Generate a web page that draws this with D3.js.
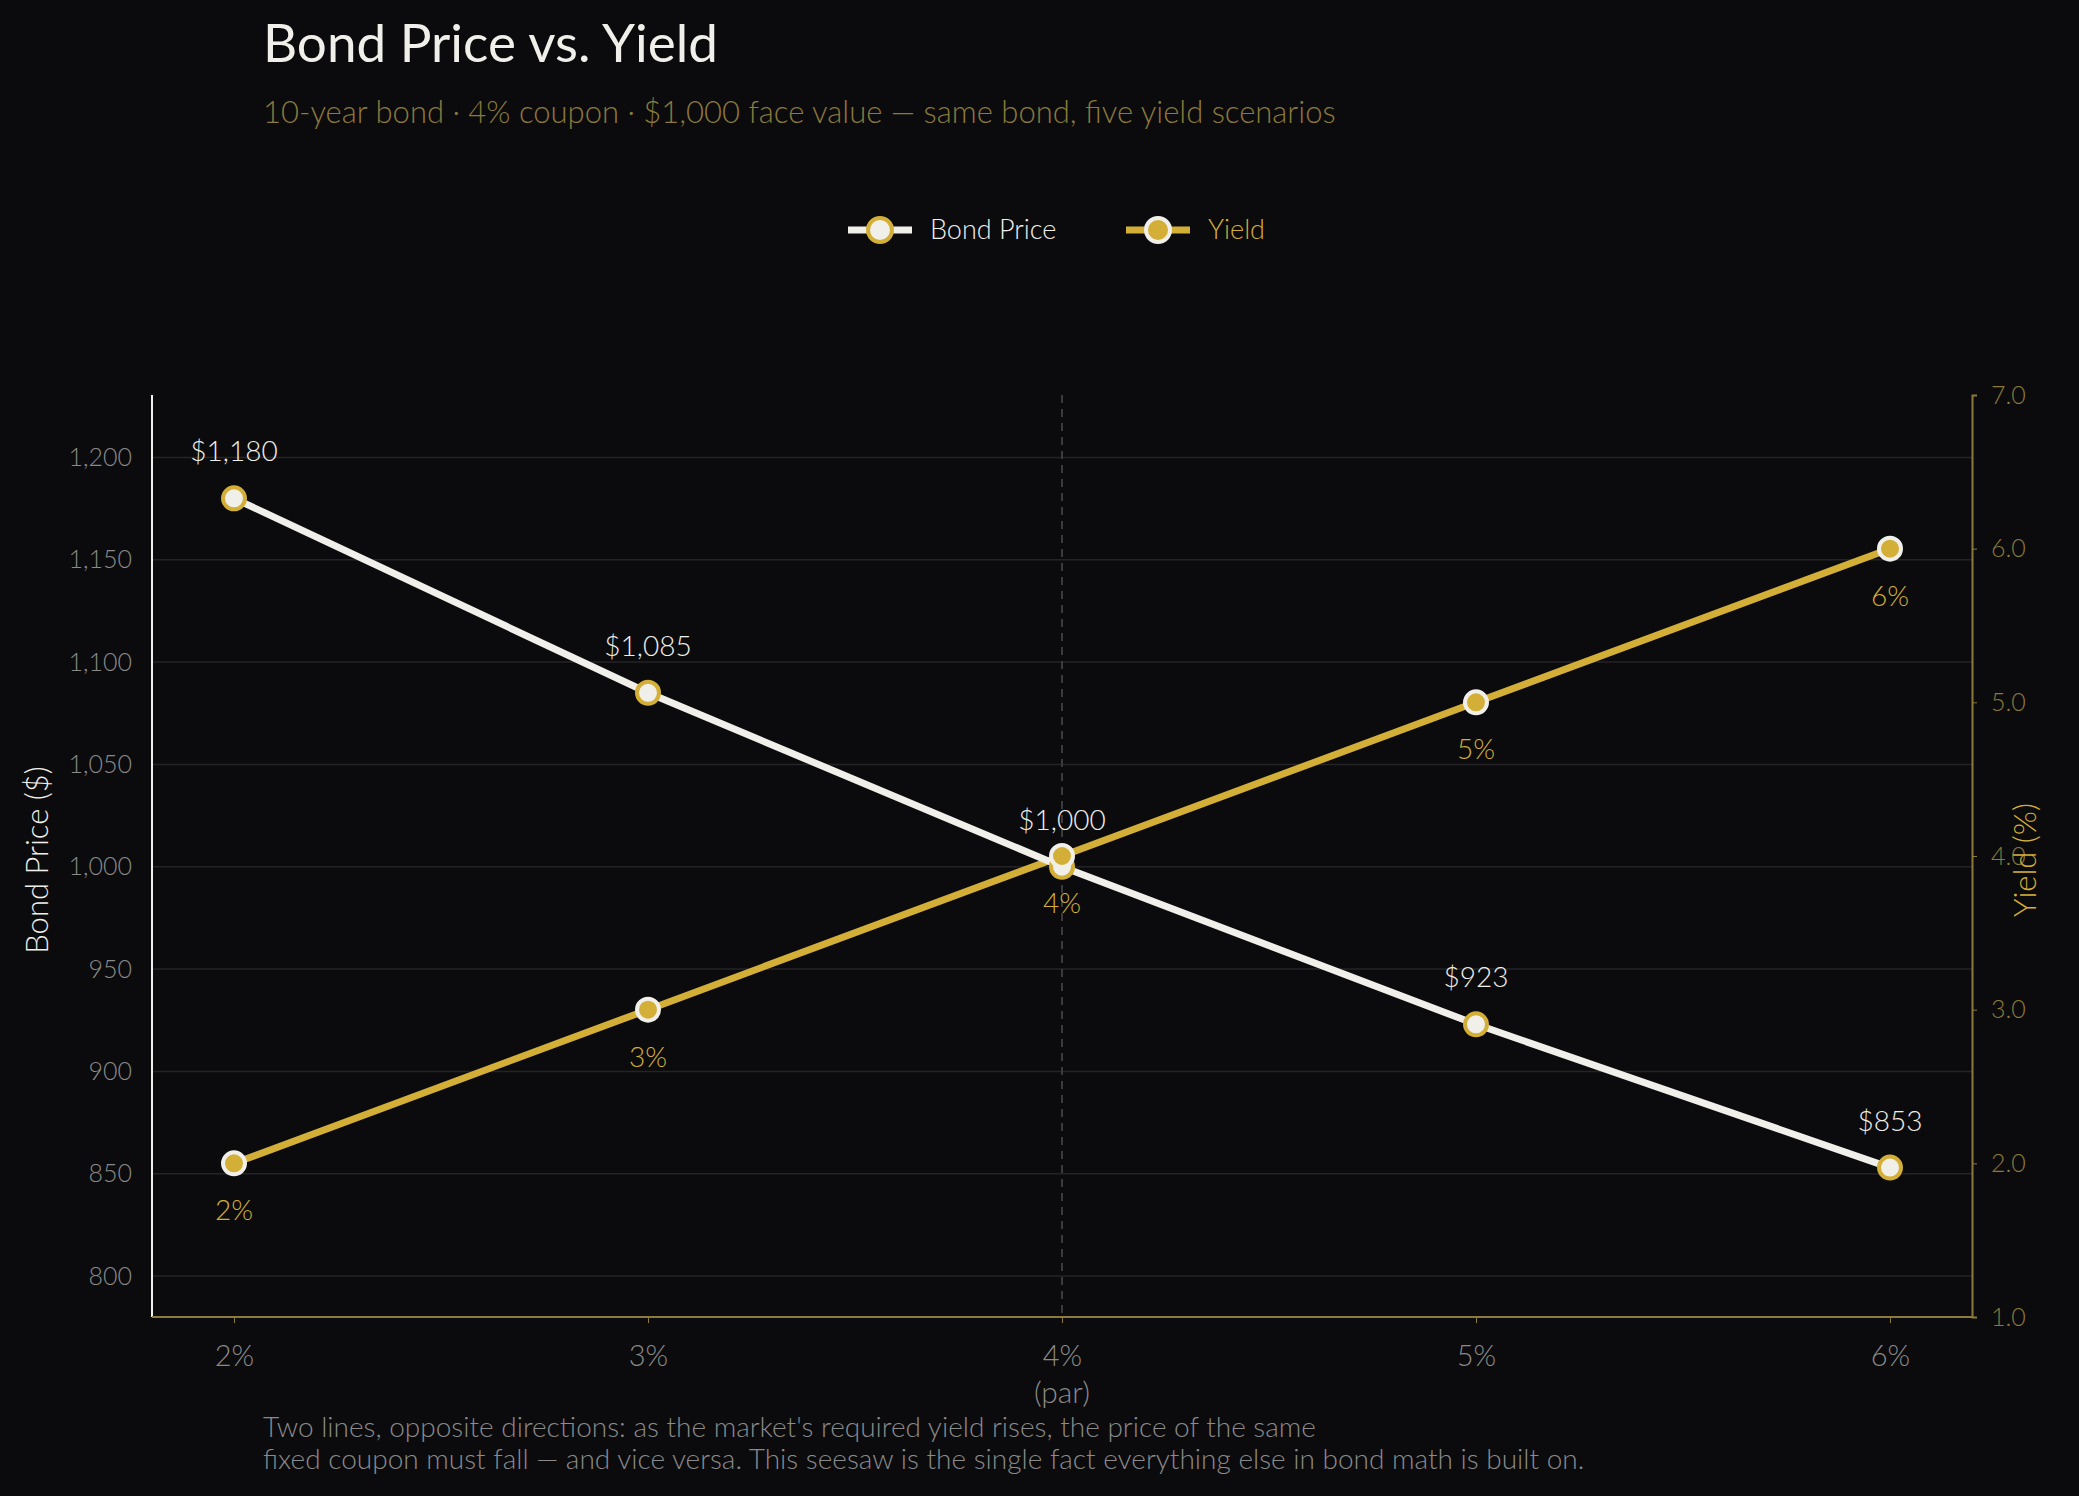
<!DOCTYPE html>
<html>
<head>
<meta charset="utf-8">
<script src="https://d3js.org/d3.v7.min.js"></script>
<style>
  body { margin: 0; background: #0b0b0d; }
  text { font-family: Lato, "Open Sans", sans-serif; font-weight: 300; }
</style>
</head>
<body>
<script>
  // data
  var scenarios = ["2%", "3%", "4%", "5%", "6%"];
  var prices = [1180, 1085, 1000, 923, 853];
  var yields = [2, 3, 4, 5, 6];
  var priceTicks = [800, 850, 900, 950, 1000, 1050, 1100, 1150, 1200];
  var yieldTicks = [1, 2, 3, 4, 5, 6, 7];

  var W = 2079, H = 1496;
  var gold = "#d4af37", white = "#f0efe9", dimGold = "#8c7a3c", grey = "#8a8a8a";
  var pLeft = 152, pRight = 1972, pTop = 395, pBottom = 1317;

  var svg = d3.select("body").append("svg").attr("width", W).attr("height", H);
  svg.append("rect").attr("width", W).attr("height", H).attr("fill", "#0b0b0d");

  var x = d3.scalePoint().domain(scenarios).range([234, 1890]);
  var yP = d3.scaleLinear().domain([780, 1230.5]).range([pBottom, pTop]);
  var yY = d3.scaleLinear().domain([1, 7]).range([pBottom, pTop]);

  // title block
  svg.append("text").attr("x", 263).attr("y", 62).attr("fill", white)
    .style("font-size", "53px").style("font-weight", 400).text("Bond Price vs. Yield");
  svg.append("text").attr("x", 263).attr("y", 123).attr("fill", dimGold)
    .style("font-size", "31px")
    .text("10-year bond · 4% coupon · $1,000 face value — same bond, five yield scenarios");

  // legend
  var leg = svg.append("g").attr("transform", "translate(848,230)");
  leg.append("line").attr("x1", 0).attr("x2", 64).attr("stroke", white).attr("stroke-width", 7);
  leg.append("circle").attr("cx", 32).attr("r", 12).attr("fill", white).attr("stroke", gold).attr("stroke-width", 4);
  leg.append("text").attr("x", 82).attr("y", 9).attr("fill", white).style("font-size", "27px").text("Bond Price");
  leg.append("line").attr("x1", 278).attr("x2", 342).attr("stroke", gold).attr("stroke-width", 7);
  leg.append("circle").attr("cx", 310).attr("r", 12).attr("fill", gold).attr("stroke", white).attr("stroke-width", 4);
  leg.append("text").attr("x", 360).attr("y", 9).attr("fill", gold).style("font-size", "27px").text("Yield");

  // gridlines
  svg.append("g").selectAll("line").data(priceTicks).join("line")
    .attr("x1", pLeft).attr("x2", pRight)
    .attr("y1", function(d) { return yP(d); }).attr("y2", function(d) { return yP(d); })
    .attr("stroke", "#242426").attr("stroke-width", 1.5);

  // par line
  svg.append("line").attr("x1", x("4%")).attr("x2", x("4%")).attr("y1", pTop).attr("y2", pBottom)
    .attr("stroke", "#3a3a3d").attr("stroke-width", 2).attr("stroke-dasharray", "8,6");

  // axes
  var axL = svg.append("g").attr("transform", "translate(" + pLeft + ",0)")
    .call(d3.axisLeft(yP).tickValues(priceTicks).tickSize(0).tickPadding(20));
  axL.select(".domain").attr("d", "M0," + pTop + "V" + pBottom).attr("stroke", white).attr("stroke-width", 2);
  axL.selectAll("text").attr("fill", grey).style("font-size", "25px");

  var axR = svg.append("g").attr("transform", "translate(" + pRight + ",0)")
    .call(d3.axisRight(yY).tickValues(yieldTicks).tickSize(5).tickPadding(14));
  axR.select(".domain").attr("stroke", dimGold).attr("stroke-width", 2);
  axR.selectAll(".tick line").attr("stroke", dimGold);
  axR.selectAll("text").attr("fill", dimGold).style("font-size", "25px");

  var axB = svg.append("g").attr("transform", "translate(0," + pBottom + ")")
    .call(d3.axisBottom(x).tickSize(6).tickPadding(22));
  axB.select(".domain").attr("d", "M" + pLeft + ",0H" + pRight).attr("stroke", dimGold).attr("stroke-width", 2);
  axB.selectAll(".tick line").attr("stroke", dimGold);
  axB.selectAll("text").attr("fill", grey).style("font-size", "29px");
  svg.append("text").attr("x", x("4%")).attr("y", 1403).attr("text-anchor", "middle")
    .attr("fill", grey).style("font-size", "30px").text("(par)");

  // axis titles
  svg.append("text").attr("transform", "translate(48,860) rotate(-90)").attr("text-anchor", "middle")
    .attr("fill", white).style("font-size", "31px").text("Bond Price ($)");
  svg.append("text").attr("transform", "translate(2036,860) rotate(-90)").attr("text-anchor", "middle")
    .attr("fill", gold).style("font-size", "31px").text("Yield (%)");

  // yield line
  var lineY = d3.line().x(function(d, i) { return x(scenarios[i]); }).y(function(d) { return yY(d); });
  svg.append("path").datum(yields).attr("d", lineY).attr("fill", "none")
    .attr("stroke", gold).attr("stroke-width", 7);
  // price line
  var lineP = d3.line().x(function(d, i) { return x(scenarios[i]); }).y(function(d) { return yP(d); });
  svg.append("path").datum(prices).attr("d", lineP).attr("fill", "none")
    .attr("stroke", white).attr("stroke-width", 7);

  svg.append("g").selectAll("circle").data(prices).join("circle")
    .attr("cx", function(d, i) { return x(scenarios[i]); }).attr("cy", function(d) { return yP(d); })
    .attr("r", 11).attr("fill", white).attr("stroke", gold).attr("stroke-width", 4);
  svg.append("g").selectAll("circle").data(yields).join("circle")
    .attr("cx", function(d, i) { return x(scenarios[i]); }).attr("cy", function(d) { return yY(d); })
    .attr("r", 11).attr("fill", gold).attr("stroke", white).attr("stroke-width", 4);

  // labels
  svg.append("g").selectAll("text").data(prices).join("text")
    .attr("x", function(d, i) { return x(scenarios[i]); }).attr("y", function(d) { return yP(d) - 37; })
    .attr("text-anchor", "middle").attr("fill", white).style("font-size", "28px")
    .text(function(d) { return "$" + d3.format(",")(d); });
  svg.append("g").selectAll("text").data(yields).join("text")
    .attr("x", function(d, i) { return x(scenarios[i]); }).attr("y", function(d) { return yY(d) + 57; })
    .attr("text-anchor", "middle").attr("fill", gold).style("font-size", "28px")
    .text(function(d) { return d + "%"; });

  // footnote
  svg.append("text").attr("x", 263).attr("y", 1437).attr("fill", grey).style("font-size", "28px")
    .text("Two lines, opposite directions: as the market's required yield rises, the price of the same");
  svg.append("text").attr("x", 263).attr("y", 1469).attr("fill", grey).style("font-size", "28px")
    .text("fixed coupon must fall — and vice versa. This seesaw is the single fact everything else in bond math is built on.");
</script>
</body>
</html>
